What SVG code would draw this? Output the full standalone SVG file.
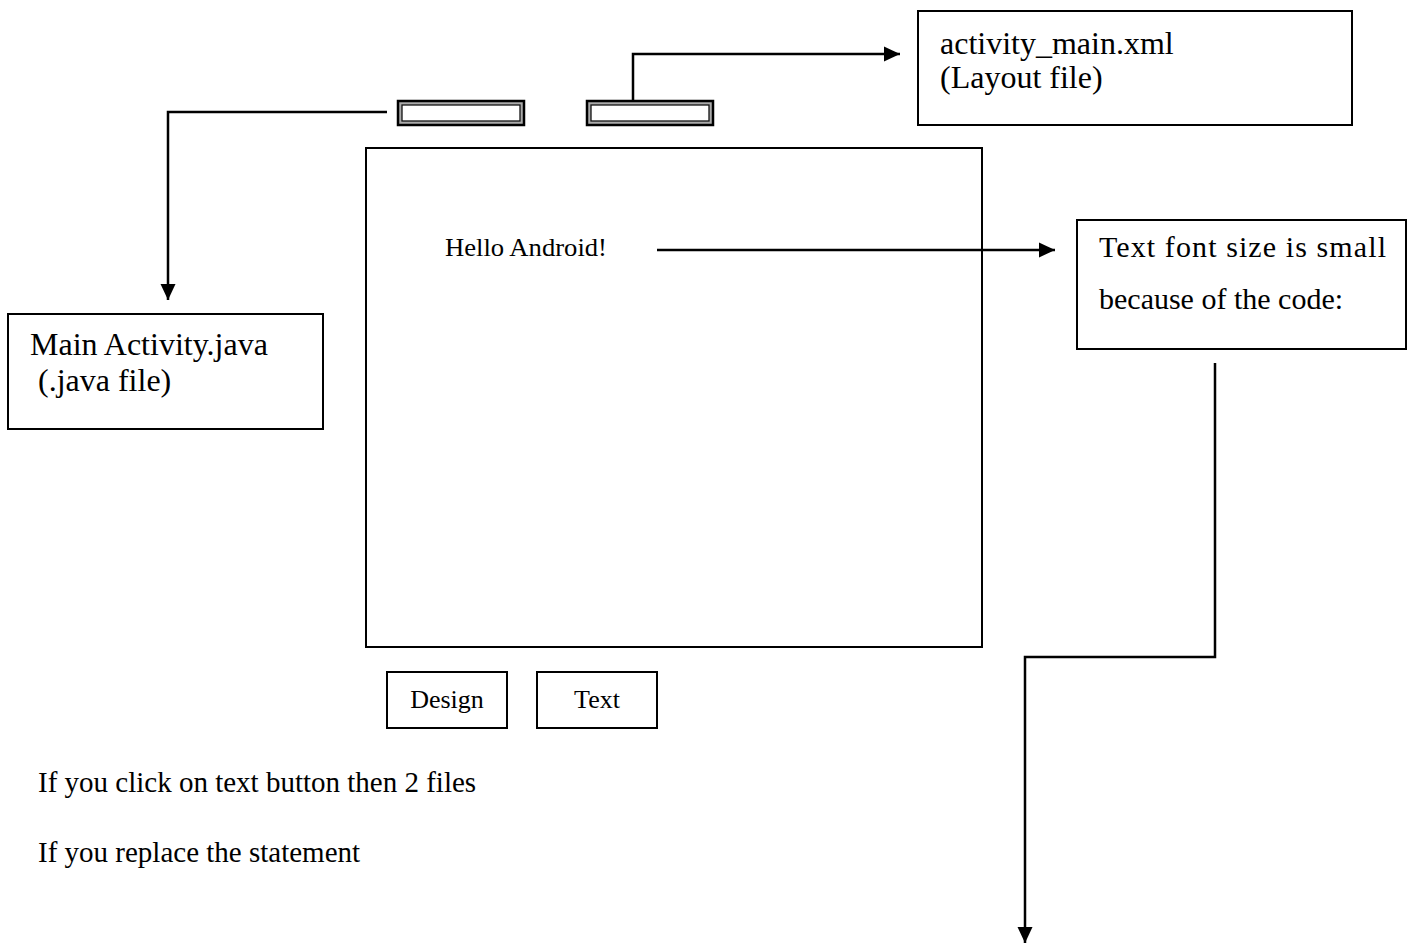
<svg xmlns="http://www.w3.org/2000/svg" width="1412" height="948" viewBox="0 0 1412 948">
<defs>
<style>
.box{fill:#fff;stroke:#000;stroke-width:2}
.t{font-family:"Liberation Serif","Times New Roman",serif;fill:#000}
.f32{font-size:32px}
.f30{font-size:30px}
.f29{font-size:29px}
.f26{font-size:26px}
.conn{fill:none;stroke:#000;stroke-width:2.5}
.tabo{fill:#aaa;stroke:#000;stroke-width:2.5}
.tabi{fill:#fff;stroke:#111;stroke-width:1.3}
</style>
<marker id="arr" markerUnits="userSpaceOnUse" markerWidth="17" markerHeight="17" viewBox="0 0 17 17" refX="16" refY="8.5" orient="auto">
<path d="M0,1 L16,8.5 L0,16 Z" fill="#000"/>
</marker>
</defs>
<rect width="1412" height="948" fill="#fff"/>

<g id="tab-java">
<rect class="tabo" x="398" y="101" width="126" height="24"/>
<rect class="tabi" x="402" y="105" width="118" height="16"/>
</g>
<g id="tab-xml">
<rect class="tabo" x="587" y="101" width="126" height="24"/>
<rect class="tabi" x="591" y="105" width="118" height="16"/>
</g>

<g id="activity-main-xml">
<rect class="box" x="918" y="11" width="434" height="114"/>
<text class="t f32" x="940" y="54">activity_main.xml</text>
<text class="t f32" x="940" y="88">(Layout file)</text>
</g>

<g id="screen">
<rect class="box" x="366" y="148" width="616" height="499"/>
<text class="t f26" x="445" y="256" textLength="162" lengthAdjust="spacingAndGlyphs">Hello Android!</text>
</g>

<g id="font-note">
<rect class="box" x="1077" y="220" width="329" height="129"/>
<text class="t f30" x="1099" y="257" textLength="287" lengthAdjust="spacing">Text font size is small</text>
<text class="t f30" x="1099" y="309">because of the code:</text>
</g>

<g id="main-activity-java">
<rect class="box" x="8" y="314" width="315" height="115"/>
<text class="t f32" x="30" y="355">Main Activity.java</text>
<text class="t f32" x="38" y="391">(.java file)</text>
</g>

<g id="btn-design">
<rect class="box" x="387" y="672" width="120" height="56"/>
<text class="t f26" x="447" y="708" text-anchor="middle">Design</text>
</g>
<g id="btn-text">
<rect class="box" x="537" y="672" width="120" height="56"/>
<text class="t f26" x="597" y="708" text-anchor="middle">Text</text>
</g>

<g id="notes">
<text class="t f29" x="38" y="792">If you click on text button then 2 files</text>
<text class="t f29" x="38" y="862">If you replace the statement</text>
</g>

<g id="connectors">
<path class="conn" d="M387,112 H168 V300" marker-end="url(#arr)"/>
<path class="conn" d="M633,100 V54 H900" marker-end="url(#arr)"/>
<path class="conn" d="M657,250 H1055" marker-end="url(#arr)"/>
<path class="conn" d="M1215,363 V657 H1025 V943" marker-end="url(#arr)"/>
</g>
</svg>
